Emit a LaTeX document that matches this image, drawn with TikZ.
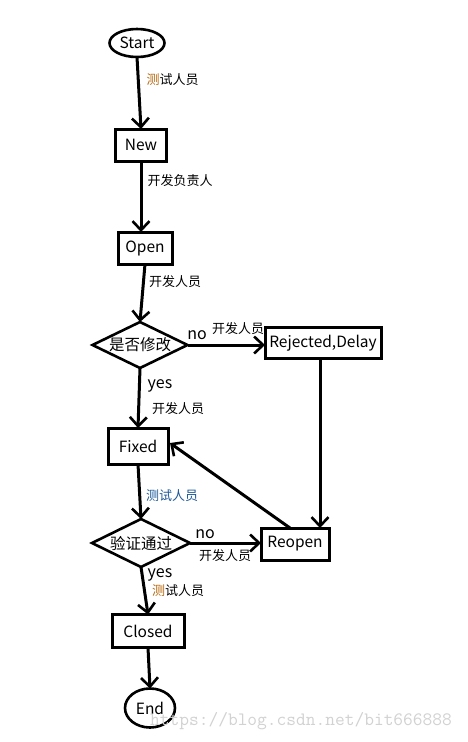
\documentclass[tikz,border=0pt]{standalone}
\usepackage{fontspec}
\setmainfont{Noto Sans CJK SC}
\newfontfamily\cjk{Noto Sans CJK SC}
\usetikzlibrary{arrows.meta,shapes.geometric}
\definecolor{ctorange}{HTML}{B86A10}
\definecolor{ctblue}{HTML}{1E5A9A}
\definecolor{wm}{HTML}{D2D2D2}
\tikzset{
  every node/.style={inner sep=0pt, outer sep=0pt},
  flow/.style={line width=3pt, -{Straight Barb[length=9pt,width=17pt,line width=2.6pt]}},
  term/.style={draw, line width=2.6pt, ellipse, font=\fontsize{15.5}{15.5}\selectfont},
  stat/.style={draw, line width=3pt, rectangle, font=\fontsize{15.5}{15.5}\selectfont},
  dec/.style={draw, line width=2.6pt, diamond, aspect=2.1, font=\cjk\fontsize{15.5}{15.5}\selectfont},
  lab/.style={font=\cjk\fontsize{13}{13}\selectfont},
  yn/.style={font=\fontsize{16}{16}\selectfont},
}
\begin{document}
\begin{tikzpicture}[x=1pt,y=-1pt]
\useasboundingbox[fill=white] (0,0) rectangle (468,742);
% nodes
\node[term, minimum width=55pt, minimum height=28pt] (start) at (137,43) {Start};
\node[stat, minimum width=51pt, minimum height=32pt] (new) at (141,145) {New};
\node[stat, minimum width=54pt, minimum height=32pt] (open) at (145,248) {Open};
\node[dec, minimum width=95pt, minimum height=46pt] (d1) at (140,345) {是否修改};
\node[stat, minimum width=116pt, minimum height=31pt] (rej) at (323,343) {Rejected,Delay};
\node[stat, minimum width=60pt, minimum height=36pt] (fixed) at (138,446) {Fixed};
\node[dec, minimum width=98pt, minimum height=48pt] (d2) at (141,543) {验证通过};
\node[stat, minimum width=68pt, minimum height=32pt] (reopen) at (295,544) {Reopen};
\node[stat, minimum width=72pt, minimum height=33pt] (closed) at (148,631) {Closed};
\node[term, minimum width=50pt, minimum height=39pt] (end) at (150,708) {End};
% connector helper coordinates
\coordinate (rejdown) at (320,359);
\coordinate (reopentop) at (320,528);
\coordinate (reopencorner) at (290,528);
\coordinate (fixedin) at (170,443);
% connectors
\draw[flow] (start.south) -- (new.north);
\draw[flow] (new.south) -- (new.south|-open.north);
\draw[flow] (open.south) -- (d1.north);
\draw[flow] (d1.east) -- (rej.west|-d1.east);
\draw[flow] (d1.south) -- (fixed.north);
\draw[flow] (rejdown) -- (reopentop);
\draw[flow] (reopencorner) -- (fixedin);
\draw[flow] (fixed.south) -- (d2.north);
\draw[flow] (d2.east) -- (reopen.west|-d2.east);
\draw[flow] (d2.south) -- (closed.north);
\draw[flow] (closed.south) -- (end.north);
% labels
\node[lab] (l1) at (172.5,80) {\textcolor{ctorange}{测}试人员};
\node[lab] (l2) at (180,181) {开发负责人};
\node[lab] (l3) at (175,282) {开发人员};
\node[yn] (no1) at (197,335) {no};
\node[lab] (l4) at (238,329) {开发人员};
\node[yn] (yes1) at (160,386) {yes};
\node[lab] (l5) at (178,409) {开发人员};
\node[lab, text=ctblue] (l6) at (172,496) {测试人员};
\node[yn] (no2) at (205,534) {no};
\node[lab] (l7) at (225,556) {开发人员};
\node[yn] (yes2) at (160,575) {yes};
\node[lab] (l8) at (178,591) {\textcolor{ctorange}{测}试人员};
\node[font=\ttfamily\fontsize{18.9}{18.9}\selectfont, text=wm] (wmark) at (301,721) {https://blog.csdn.net/bit666888};
\end{tikzpicture}
\end{document}
